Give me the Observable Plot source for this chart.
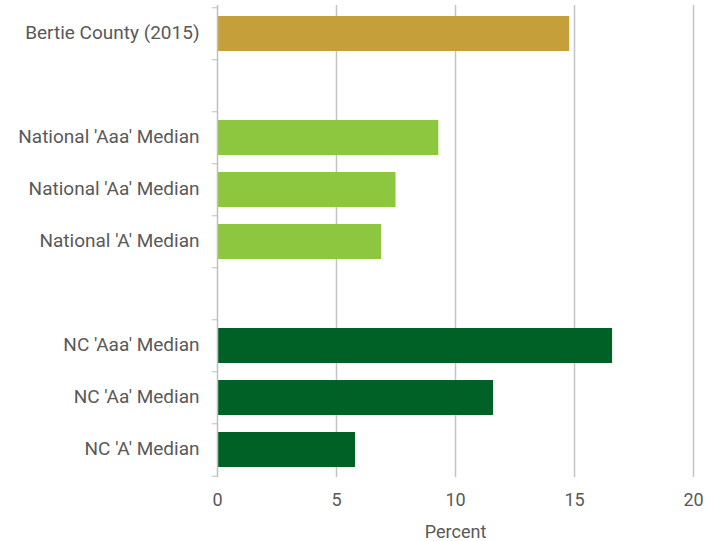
<!DOCTYPE html>
<html>
<head>
<meta charset="utf-8">
<script src="https://cdn.jsdelivr.net/npm/d3@7"></script>
<script src="https://cdn.jsdelivr.net/npm/@observablehq/plot@0.6"></script>
<style>
  html, body { margin: 0; padding: 0; background: #ffffff; }
</style>
</head>
<body>
<div id="chart"></div>
<script>
// Rows of the chart, including the two blank spacer rows
const rows = ["Bertie County (2015)", " ", "National 'Aaa' Median", "National 'Aa' Median", "National 'A' Median", "  ", "NC 'Aaa' Median", "NC 'Aa' Median", "NC 'A' Median"];
// Bars
const labels = ["Bertie County (2015)", "National 'Aaa' Median", "National 'Aa' Median", "National 'A' Median", "NC 'Aaa' Median", "NC 'Aa' Median", "NC 'A' Median"];
const values = [14.8, 9.3, 7.5, 6.9, 16.6, 11.6, 5.8];
const colors = ["#C5A03A", "#8DC63F", "#8DC63F", "#8DC63F", "#006127", "#006127", "#006127"];
const xTicks = [0, 5, 10, 15, 20];

const data = labels.map((label, i) => ({label, value: values[i], color: colors[i]}));

const W = 707, H = 541;
const mTop = 5, mBottom = 64, mLeft = 217, mRight = 14;
const step = (H - mTop - mBottom) / rows.length;

const chart = Plot.plot({
  width: W,
  height: H,
  marginTop: mTop,
  marginBottom: mBottom,
  marginLeft: mLeft,
  marginRight: mRight,
  style: {fontFamily: "Roboto, 'Open Sans', sans-serif", fontSize: "18px", color: "#595959", background: "#ffffff"},
  x: {domain: [0, 20], label: null},
  y: {domain: rows, paddingInner: 0.33, paddingOuter: 0.165, align: 0.5, label: null},
  color: {type: "identity"},
  marks: [
    Plot.gridX(xTicks.slice(1), {stroke: "#c4c4c4", strokeOpacity: 1, strokeWidth: 1.5}),
    Plot.barX(data, {x: "value", y: "label", fill: "color", insetLeft: 1}),
    Plot.ruleX([0], {stroke: "#bfbfbf", strokeWidth: 1.5}),
    Plot.axisX(xTicks, {tickSize: 0, tickPadding: 16, label: "Percent", labelAnchor: "center", labelArrow: "none", labelOffset: 60, fill: "#595959", fontSize: 18}),
    Plot.axisY({tickSize: 0, tickPadding: 18, label: null, fill: "#595959", fontSize: 19, dy: -1}),
    Plot.axisY({tickSize: 5, tickFormat: () => "", label: null, dy: -step / 2, stroke: "#bfbfbf"}),
    Plot.axisY([rows[rows.length - 1]], {tickSize: 5, tickFormat: () => "", label: null, dy: step / 2, stroke: "#bfbfbf"})
  ]
});

document.getElementById("chart").appendChild(chart);
</script>
</body>
</html>
